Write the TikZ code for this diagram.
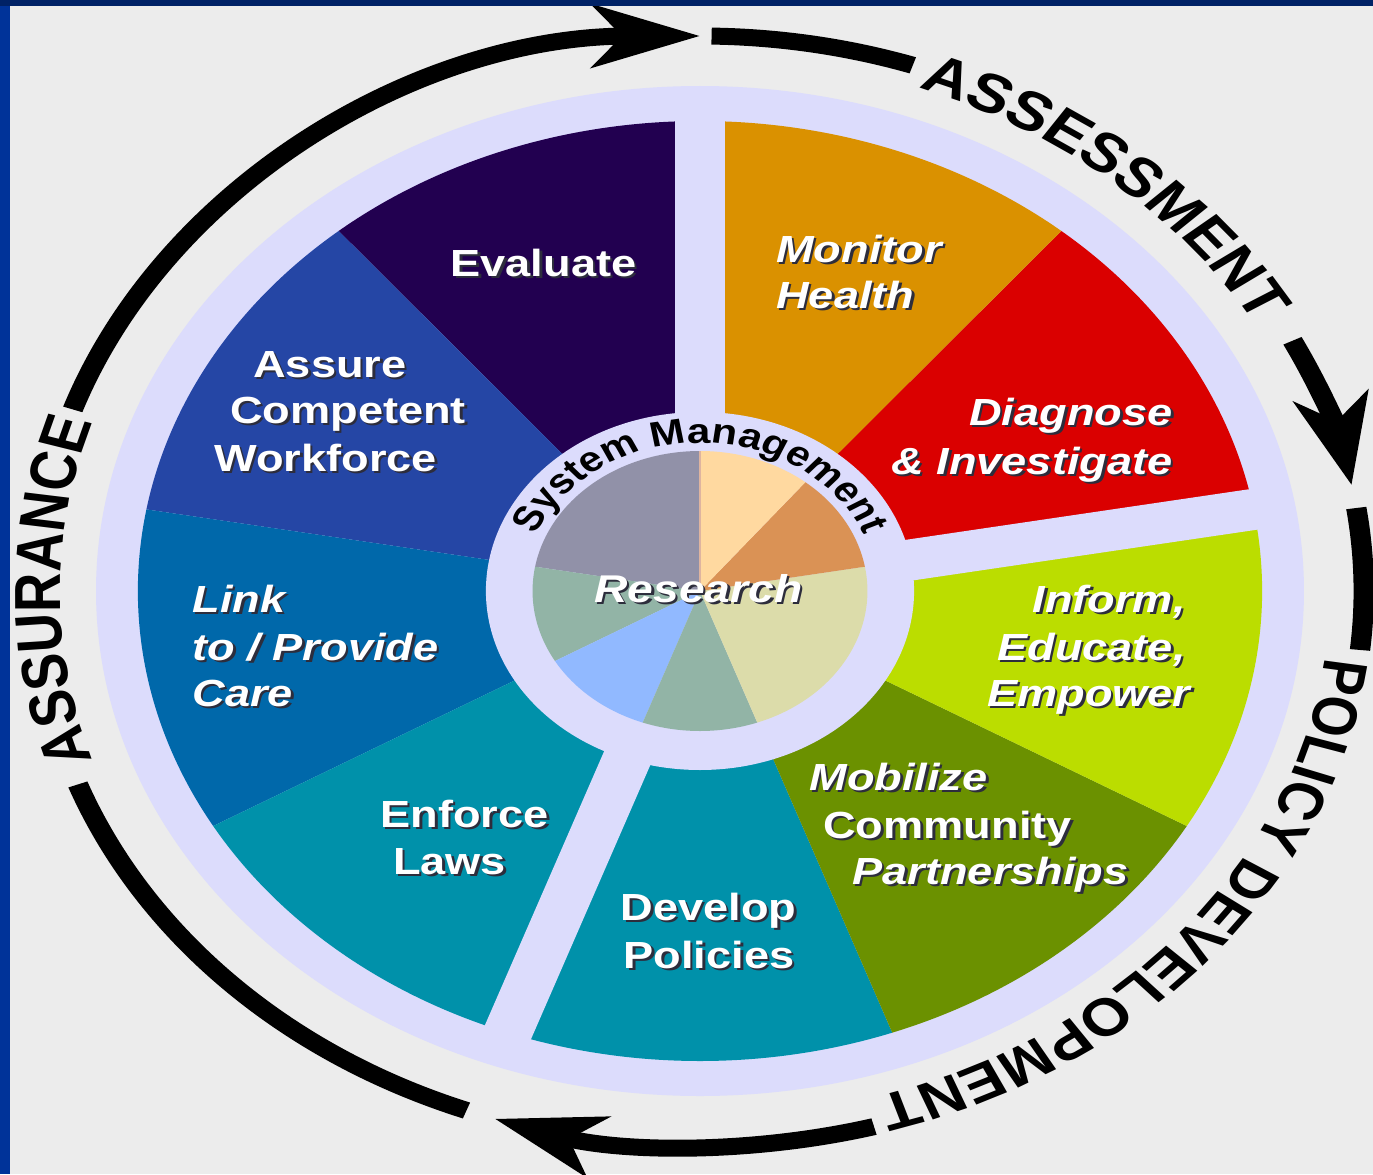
\documentclass[tikz,border=0pt]{standalone}
\usepackage{fontspec}
\setmainfont{Liberation Sans}
\usetikzlibrary{arrows.meta,decorations.text}
\definecolor{bgc}{RGB}{236,236,236}
\definecolor{lav}{RGB}{220,220,252}
\definecolor{navyc}{RGB}{0,34,102}
\definecolor{frameb}{RGB}{0,51,153}
\definecolor{cEval}{RGB}{34,0,80}
\definecolor{cAss}{RGB}{37,70,165}
\definecolor{cLink}{RGB}{0,104,170}
\definecolor{cEnf}{RGB}{0,145,170}
\definecolor{cDev}{RGB}{0,145,170}
\definecolor{cMob}{RGB}{107,145,0}
\definecolor{cInf}{RGB}{187,221,0}
\definecolor{cDia}{RGB}{218,0,0}
\definecolor{cMon}{RGB}{218,145,0}
\definecolor{pGray}{RGB}{145,145,168}
\definecolor{pSage}{RGB}{146,180,166}
\definecolor{pBlue}{RGB}{145,185,255}
\definecolor{pBeige}{RGB}{220,220,170}
\definecolor{pOrange}{RGB}{218,146,85}
\definecolor{pPeach}{RGB}{255,217,160}
\definecolor{pTan}{RGB}{222,180,160}
\definecolor{shd}{RGB}{45,45,60}
\newcommand\emb[1]{\leavevmode\rlap{\kern1.2pt\raisebox{-1.2pt}{\textcolor{shd}{#1}}}\textcolor{white}{#1}}
\newcommand\labfont{\fontsize{21.5pt}{26pt}\selectfont\bfseries}
\newcommand\arcfont{\fontsize{31pt}{31pt}\selectfont\bfseries}
\newcommand\arcfontb{\fontsize{30pt}{30pt}\selectfont\bfseries}
\newcommand\smfont{\fontsize{20pt}{20pt}\selectfont\bfseries}
\begin{document}
\begin{tikzpicture}[x=0.02cm,y=0.02cm,
  lab/.style={inner sep=0pt, font=\labfont},
  labi/.style={inner sep=0pt, font=\labfont\itshape},
  arcline/.style={line width=0.34cm, draw=black},
  >={Stealth[length=1.8cm,width=1.25cm,inset=0.5cm]},
  gapbar/.style={fill=lav}]
\useasboundingbox (-700,-583) rectangle (673,591);
\fill[bgc] (-700,-583) rectangle (673,591);
\begin{scope}[transform canvas={xscale=1.196}]
  % outer lavender disk
  \fill[lav] (0,0) circle[radius=505];
  % sectors
  \foreach \s/\e/\c in {90/130/cEval,130/170/cAss,170/210/cLink,210/250/cEnf,250/290/cDev,290/330/cMob,330/370/cInf,10/50/cDia,50/90/cMon}
    \fill[\c] (0,0) -- (\s:470) arc[start angle=\s, end angle=\e, radius=470] -- cycle;
  % gaps
  \foreach \g in {90,10,250}
    \fill[gapbar, rotate=\g] (0,-20.5) rectangle (500,20.5);
  % inner ring
  \fill[lav] (0,0) circle[radius=179];
  % research pie
  \foreach \s/\e/\c in {90/170/pGray,170/210/pSage,210/250/pBlue,250/290/pSage,290/370/pBeige,10/51/pOrange,51/90/pPeach}
    \fill[\c] (0,0) -- (\s:140) arc[start angle=\s, end angle=\e, radius=140] -- cycle;
  \draw[pTan, line width=0.05cm] (0,0) -- (0,140);
  \node[labi, font=\fontsize{22pt}{26pt}\selectfont\bfseries\itshape, anchor=base] (research) at (-1.3,-11) {\emb{Research}};
  % System Management
  \path[decorate, decoration={text along path, text align=center, text={|\smfont|System Management}}]
    (180:148) arc[start angle=180, end angle=0, radius=148];
  % sector labels
  \node[lab, anchor=base] (eval) at (-130.9,315) {\emb{Evaluate}};
  \node[lab, anchor=base] (ass1) at (-309.4,214) {\emb{Assure}};
  \node[lab, anchor=base] (ass2) at (-294.3,168) {\emb{Competent}};
  \node[lab, anchor=base] (ass3) at (-313.1,120) {\emb{Workforce}};
  \node[labi, anchor=base west] (mon1) at (63.5,329) {\emb{Monitor}};
  \node[labi, anchor=base west] (mon2) at (63.5,283) {\emb{Health}};
  \node[labi, anchor=base east] (dia1) at (395.5,166) {\emb{Diagnose}};
  \node[labi, anchor=base east] (dia2) at (395.5,117) {\emb{\& Investigate}};
  \node[labi, anchor=base west] (link1) at (-424.7,-21) {\emb{Link}};
  \node[labi, anchor=base west] (link2) at (-424.7,-69) {\emb{to / Provide}};
  \node[labi, anchor=base west] (link3) at (-424.7,-115) {\emb{Care}};
  \node[lab, anchor=base] (enf1) at (-196.9,-236) {\emb{Enforce}};
  \node[lab, anchor=base] (enf2) at (-209.4,-283) {\emb{Laws}};
  \node[lab, anchor=base] (dev1) at (7.1,-329) {\emb{Develop}};
  \node[lab, anchor=base] (dev2) at (7.5,-377) {\emb{Policies}};
  \node[labi, anchor=base east] (inf1) at (406.4,-21) {\emb{Inform,}};
  \node[labi, anchor=base east] (inf2) at (406.4,-69) {\emb{Educate,}};
  \node[labi, anchor=base east] (inf3) at (410.5,-115) {\emb{Empower}};
  \node[labi, anchor=base west] (mob1) at (91.1,-199) {\emb{Mobilize}};
  \node[lab, anchor=base west] (mob2) at (102.8,-247) {\emb{Community}};
  \node[labi, anchor=base west] (mob3) at (127.1,-293) {\emb{Partnerships}};
  % outer cycle arrows
  \draw[arcline, ->] (160.9:555) arc[start angle=160.9, end angle=90, radius=555];
  \draw[arcline] (89:555) arc[start angle=89, end angle=71.3, radius=555];
  \draw[arcline, ->] (26.8:555) arc[start angle=26.8, end angle=11, radius=555];
  \draw[arcline] (8.6:555) arc[start angle=8.6, end angle=-6.1, radius=555];
  \draw[arcline, ->] (-74.8:555) arc[start angle=-74.8, end angle=-108, radius=555];
  \draw[arcline] (-110.6:555) arc[start angle=-110.6, end angle=-159.6, radius=555];
  % outer texts
  \path[decorate, decoration={text along path, text align=center, text={|\arcfont|ASSESSMENT}}]
    (90:535) arc[start angle=90, end angle=10, radius=535];
  \path[decorate, decoration={text along path, text align=center, text={|\arcfontb|POLICY DEVELOPMENT}}]
    (0:527) arc[start angle=0, end angle=-81, radius=527];
  \path[decorate, decoration={text along path, text align=center, text={|\arcfont|ASSURANCE}}]
    (220:535) arc[start angle=220, end angle=140, radius=535];
\end{scope}
\fill[navyc] (-700,585) rectangle (673,591);
\fill[frameb] (-700,-583) rectangle (-690,585);
\end{tikzpicture}
\end{document}
